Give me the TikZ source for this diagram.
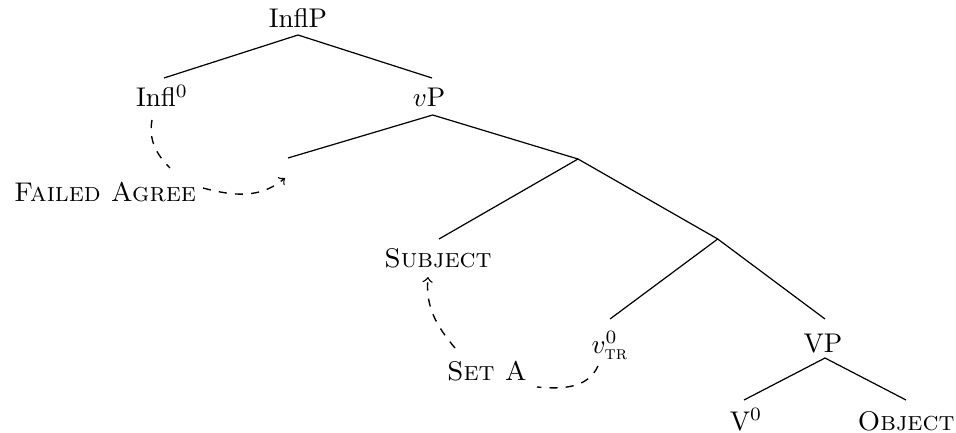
\documentclass[tikz,border=0pt]{standalone}
\usepackage{amsmath}
\begin{document}
\begin{tikzpicture}[x=0.37pt,y=-0.37pt,
  lbl/.style={anchor=base,inner sep=0pt},
  branch/.style={line width=0.45pt},
  move/.style={dashed,line width=0.5pt},
  movearrow/.style={move,->}]
\useasboundingbox (0,0) rectangle (956,432);
% labels
\node[lbl] (inflp) at (298,28) {InflP};
\node[lbl] (infl) at (162,107) {Infl$^0$};
\node[lbl] (vp) at (429,107) {$v$P};
\node[lbl] (fa) at (105,201) {\textsc{Failed Agree}};
\node[lbl] (subj) at (438,267) {\textsc{Subject}};
\node[lbl] (vtr) at (610,353) {$v^0_{\textsc{tr}}$};
\node[lbl] (VP) at (823,352) {VP};
\node[lbl] (seta) at (487,380) {\textsc{Set A}};
\node[lbl] (v0) at (746,430) {V$^0$};
\node[lbl] (obj) at (906,430) {\textsc{Object}};
% branch points
\coordinate (inflp-b) at (298,35);
\coordinate (infl-t) at (164,78);
\coordinate (vp-t) at (432,78);
\coordinate (vp-b) at (432.7,115);
\coordinate (spec) at (288,158);
\coordinate (vbar) at (578,159);
\coordinate (subj-t) at (439,239);
\coordinate (vbar2) at (717.7,239);
\coordinate (vtr-t) at (610,319);
\coordinate (VP-t) at (825,319);
\coordinate (VP-b) at (825,358);
\coordinate (v0-t) at (744,400);
\coordinate (obj-t) at (906,400);
% tree
\draw[branch] (infl-t) -- (inflp-b) -- (vp-t);
\draw[branch] (spec) -- (vp-b) -- (vbar);
\draw[branch] (subj-t) -- (vbar) -- (vbar2);
\draw[branch] (vtr-t) -- (vbar2) -- (VP-t);
\draw[branch] (v0-t) -- (VP-b) -- (obj-t);
% movement anchors
\coordinate (a1) at (152,120);
\coordinate (a2) at (170,168);
\coordinate (a3) at (203,188);
\coordinate (a4) at (285,178);
\coordinate (b1) at (598,366);
\coordinate (b2) at (537,387);
\coordinate (b3) at (455,348);
\coordinate (b4) at (428,277);
\draw[move] (a1) to[out=-100,in=135] (a2);
\draw[movearrow] (a3) to[out=-15,in=-140] (a4);
\draw[move] (b1) to[out=-115,in=-5] (b2);
\draw[movearrow] (b3) to[out=130,in=-95] (b4);
\end{tikzpicture}
\end{document}
